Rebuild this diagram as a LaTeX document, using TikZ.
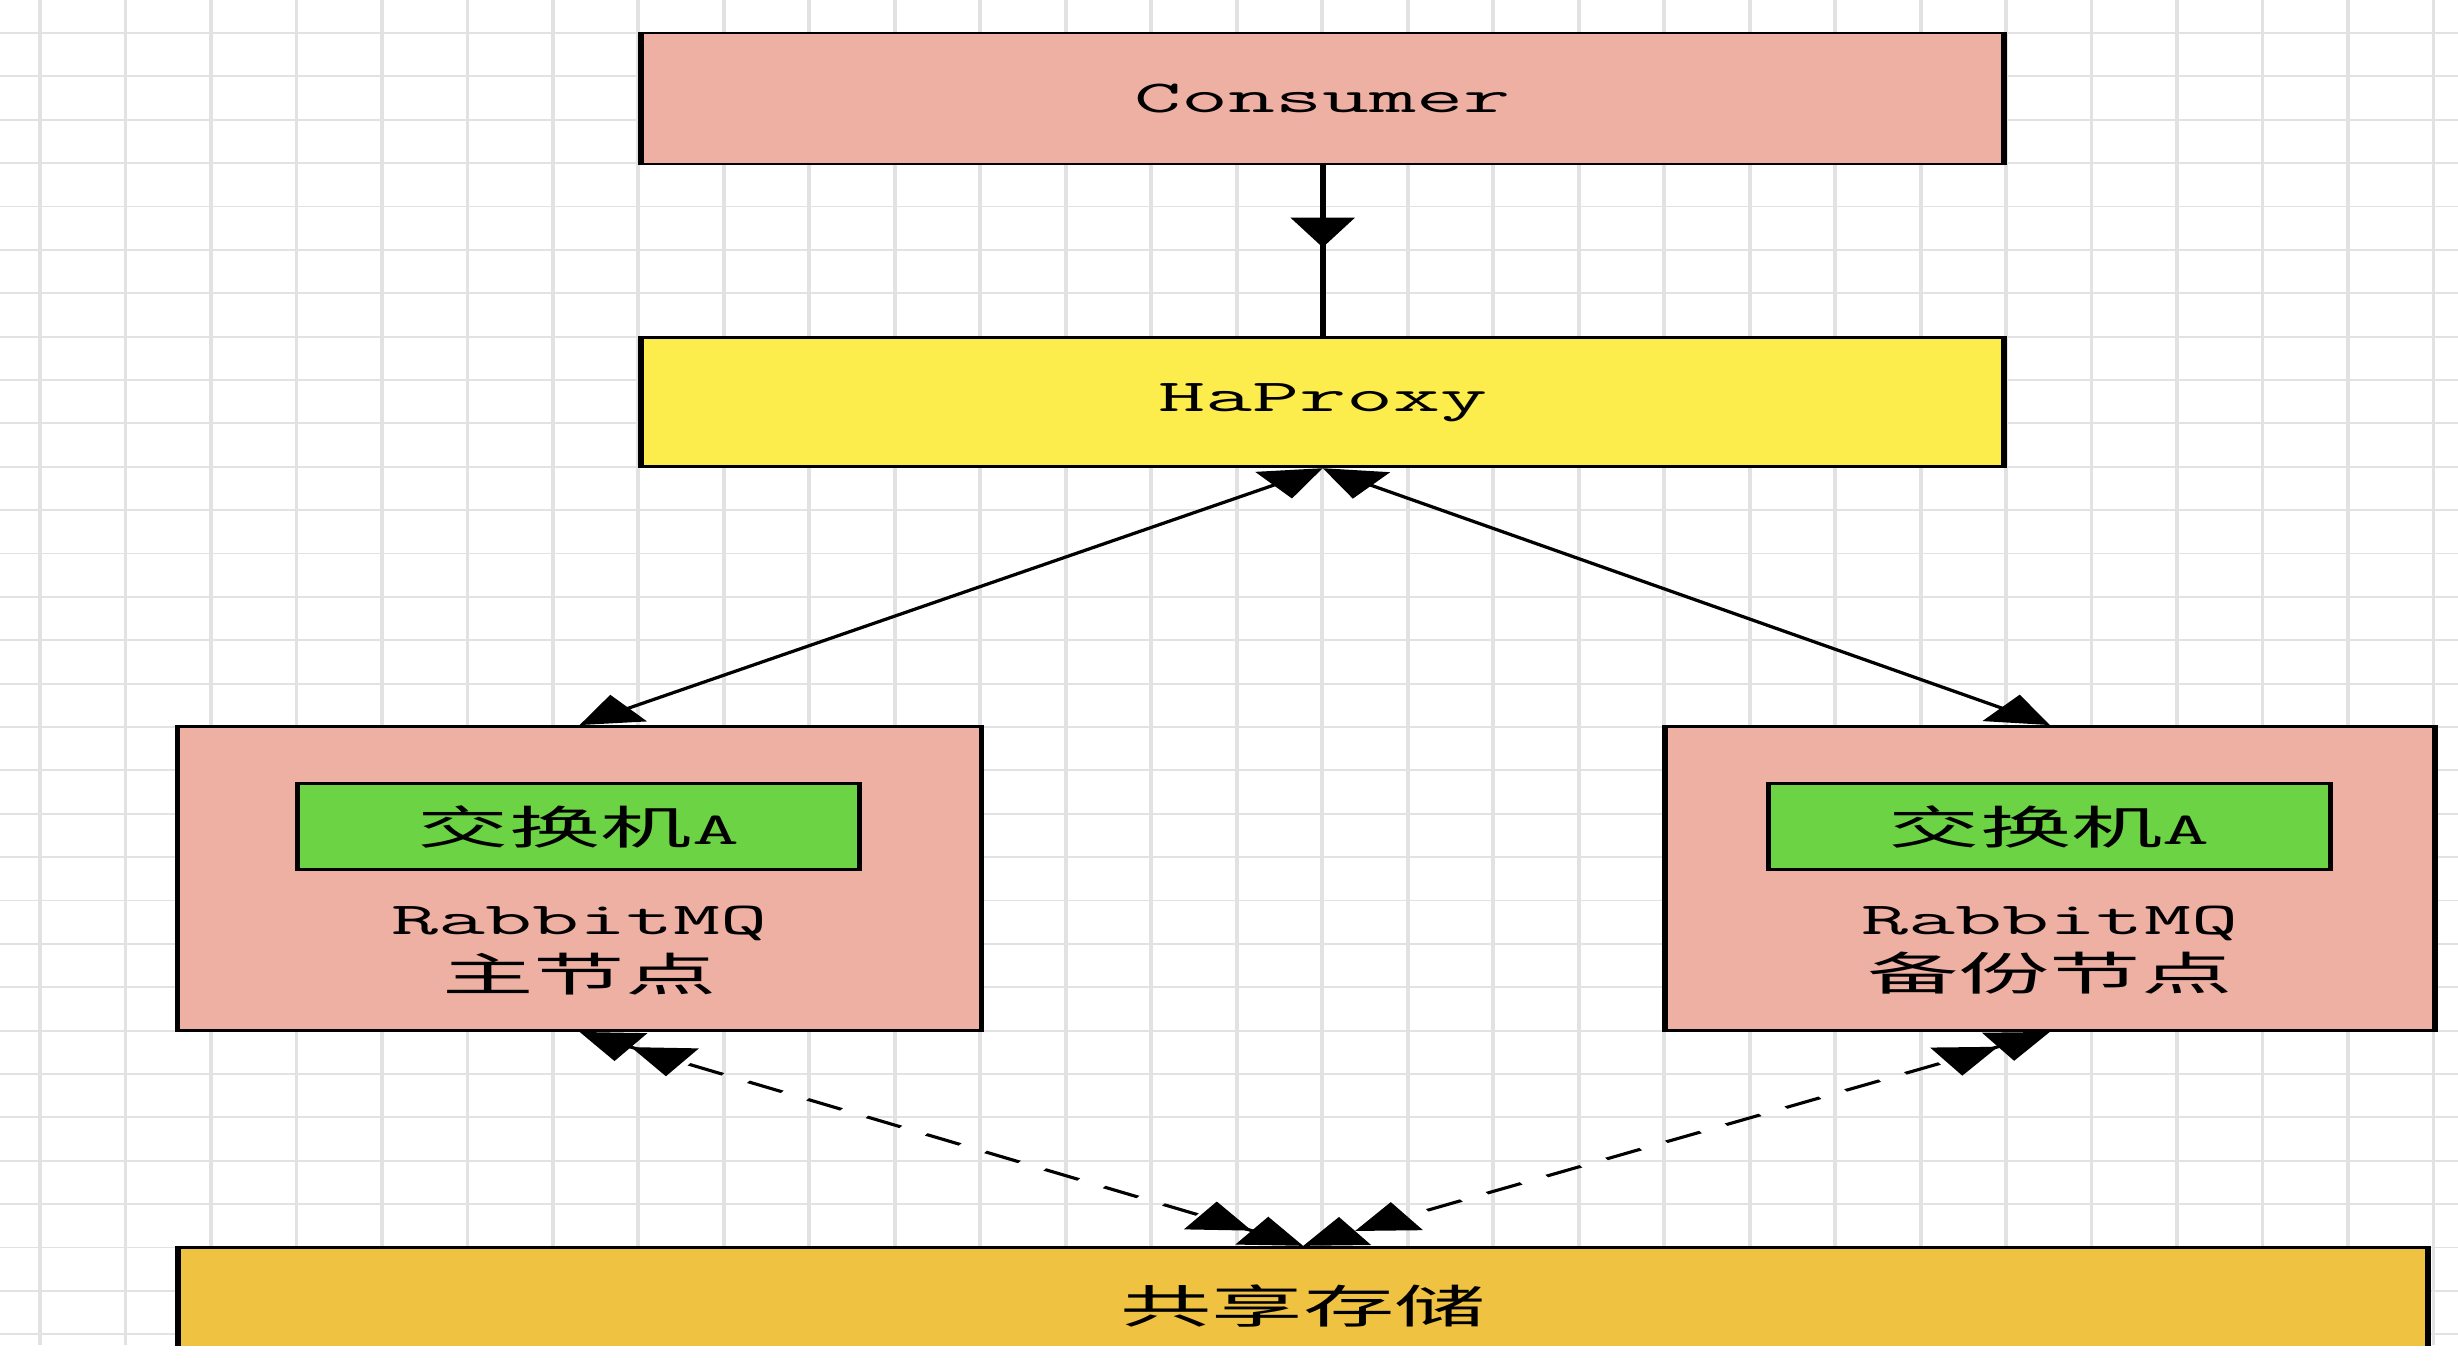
\documentclass[tikz,border=0pt]{standalone}
\usepackage{fontspec}
\newfontfamily\cjk{Noto Sans CJK SC}
\usetikzlibrary{arrows.meta,decorations.markings}

\definecolor{nodepink}{RGB}{239,176,164}
\definecolor{proxyyellow}{RGB}{252,236,76}
\definecolor{exgreen}{RGB}{108,212,68}
\definecolor{storeorange}{RGB}{240,194,66}
\definecolor{gridgray}{RGB}{226,226,226}

\tikzset{
  >={Triangle[length=8.5pt,width=9pt]},
  mono/.style={font=\ttfamily\fontsize{13}{16}\selectfont},
  box/.style={rectangle,draw=black,line width=.8pt,inner sep=0pt,mono},
  broker/.style={box,fill=nodepink,minimum height=3.04cm},
  exchange/.style={box,fill=exgreen,minimum width=2.81cm,minimum height=.86cm},
  brokerlabel/.style={mono,align=center,inner sep=0pt},
  link/.style={line width=.8pt},
  midarrow/.style={postaction={decorate},
    decoration={markings,mark=at position .48 with {\arrow{>}}}},
  sync/.style={line width=.8pt,dash pattern=on 5.6pt off 4.2pt,<<->>},
}

\begin{document}
\begin{tikzpicture}
  \useasboundingbox (0,0) rectangle (24.58,-13.62);
  \fill[white] (0,0) rectangle (24.58,-13.62);

  \begin{scope}[transform canvas={xscale=2},x=.005cm,y=-.01cm]

    % grid paper
    \foreach \i in {0,...,28}
      \draw[gridgray,line width=.55pt] (40+85.4*\i,0) -- (40+85.4*\i,1346);
    \foreach \j in {0,...,30}
      \draw[gridgray,line width=.55pt] (0,33+43.4*\j) -- (2458,33+43.4*\j);

    \node[box,fill=nodepink,minimum width=6.815cm,minimum height=1.31cm]
      (consumer) at (1321.5,98.5) {Consumer};
    \node[box,fill=proxyyellow,minimum width=6.815cm,minimum height=1.29cm]
      (haproxy) at (1321.5,402.5) {HaProxy};

    \node[broker,minimum width=4.02cm] (master) at (579,879) {};
    \node[exchange] (exmaster) at (578,827) {{\cjk 交换机}A};
    \node[brokerlabel] (masterlabel) at (579,951) {RabbitMQ\\{\cjk 主节点}};

    \node[broker,minimum width=3.85cm] (backup) at (2048,879) {};
    \node[exchange] (exbackup) at (2047.5,827) {{\cjk 交换机}A};
    \node[brokerlabel] (backuplabel) at (2048,951) {RabbitMQ\\{\cjk 备份节点}};

    \node[box,fill=storeorange,minimum width=11.25cm,minimum height=1.18cm]
      (storage) at (1302,1307) {\cjk 共享存储};

    \draw[link,midarrow] (consumer) -- (haproxy);
    \draw[link,<->] (haproxy.south) -- (master.north);
    \draw[link,<->] (haproxy.south) -- (backup.north);
    \draw[sync] (master.south) -- (storage.north);
    \draw[sync] (backup.south) -- (storage.north);

  \end{scope}

  \fill[white] (0,-13.46) rectangle (24.58,-13.62);
\end{tikzpicture}
\end{document}
